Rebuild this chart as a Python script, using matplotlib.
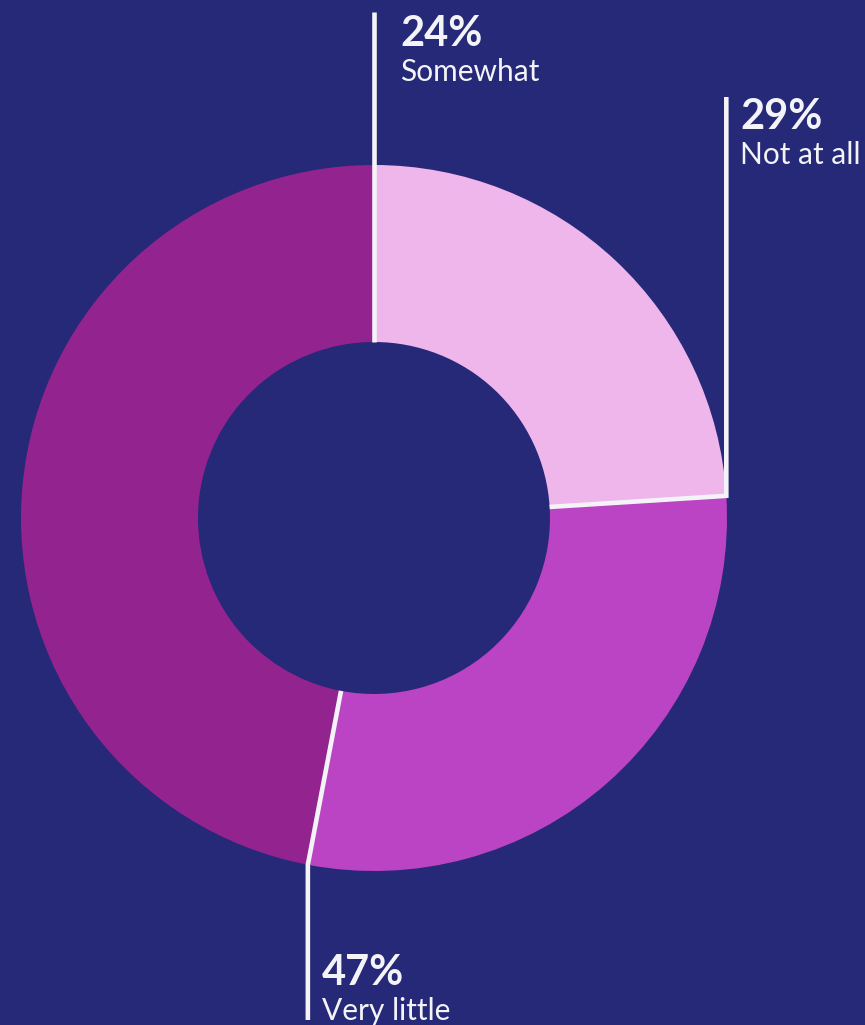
import matplotlib.pyplot as plt
import numpy as np

# Datos
categorias = ['Somewhat', 'Not at all', 'Very little']
valores = [24, 29, 47]
etiquetas = ['24%', '29%', '47%']
colores = ['#EFB6EC', '#BB44C4', '#92238F']

fondo = '#262878'
blanco = '#F4F4F8'

W, H = 865, 1025
fig = plt.figure(figsize=(W / 100, H / 100), dpi=100, facecolor=fondo)
ax = fig.add_axes([0, 0, 1, 1])
ax.set_facecolor(fondo)

cx, cy = 374, H - 518
r_ext, r_int = 353, 176

ax.pie(valores, colors=colores, startangle=90, counterclock=False,
       center=(cx, cy), radius=r_ext, frame=True,
       wedgeprops=dict(width=r_ext - r_int, linewidth=0))
ax.set_xlim(0, W)
ax.set_ylim(0, H)
ax.set_aspect('equal')
ax.axis('off')

# Líneas separadoras y etiquetas
acum = np.cumsum([0] + valores[:-1])
fin_linea = [H - 12, H - 97, H - 1020]  # extremo vertical de cada guía
pos_texto = [(400, 46, 81), (740, 129, 164), (322, 985, 1020)]
for i in range(len(valores)):
    ang = np.deg2rad(90 - acum[i] * 3.6)
    x0, y0 = cx + r_int * np.cos(ang), cy + r_int * np.sin(ang)
    x1, y1 = cx + r_ext * np.cos(ang), cy + r_ext * np.sin(ang)
    ax.plot([x0, x1, x1], [y0, y1, fin_linea[i]], color=blanco, lw=3.3,
            solid_capstyle='butt', solid_joinstyle='miter')
    tx, b1, b2 = pos_texto[i]
    ax.text(tx, H - b1, etiquetas[i], color=blanco, fontsize=30,
            fontweight='bold', family='Lato', va='baseline', ha='left')
    ax.text(tx, H - b2, categorias[i], color=blanco, fontsize=21.5,
            family='Lato', va='baseline', ha='left')

fig.savefig('out.png', dpi=100, facecolor=fondo)
